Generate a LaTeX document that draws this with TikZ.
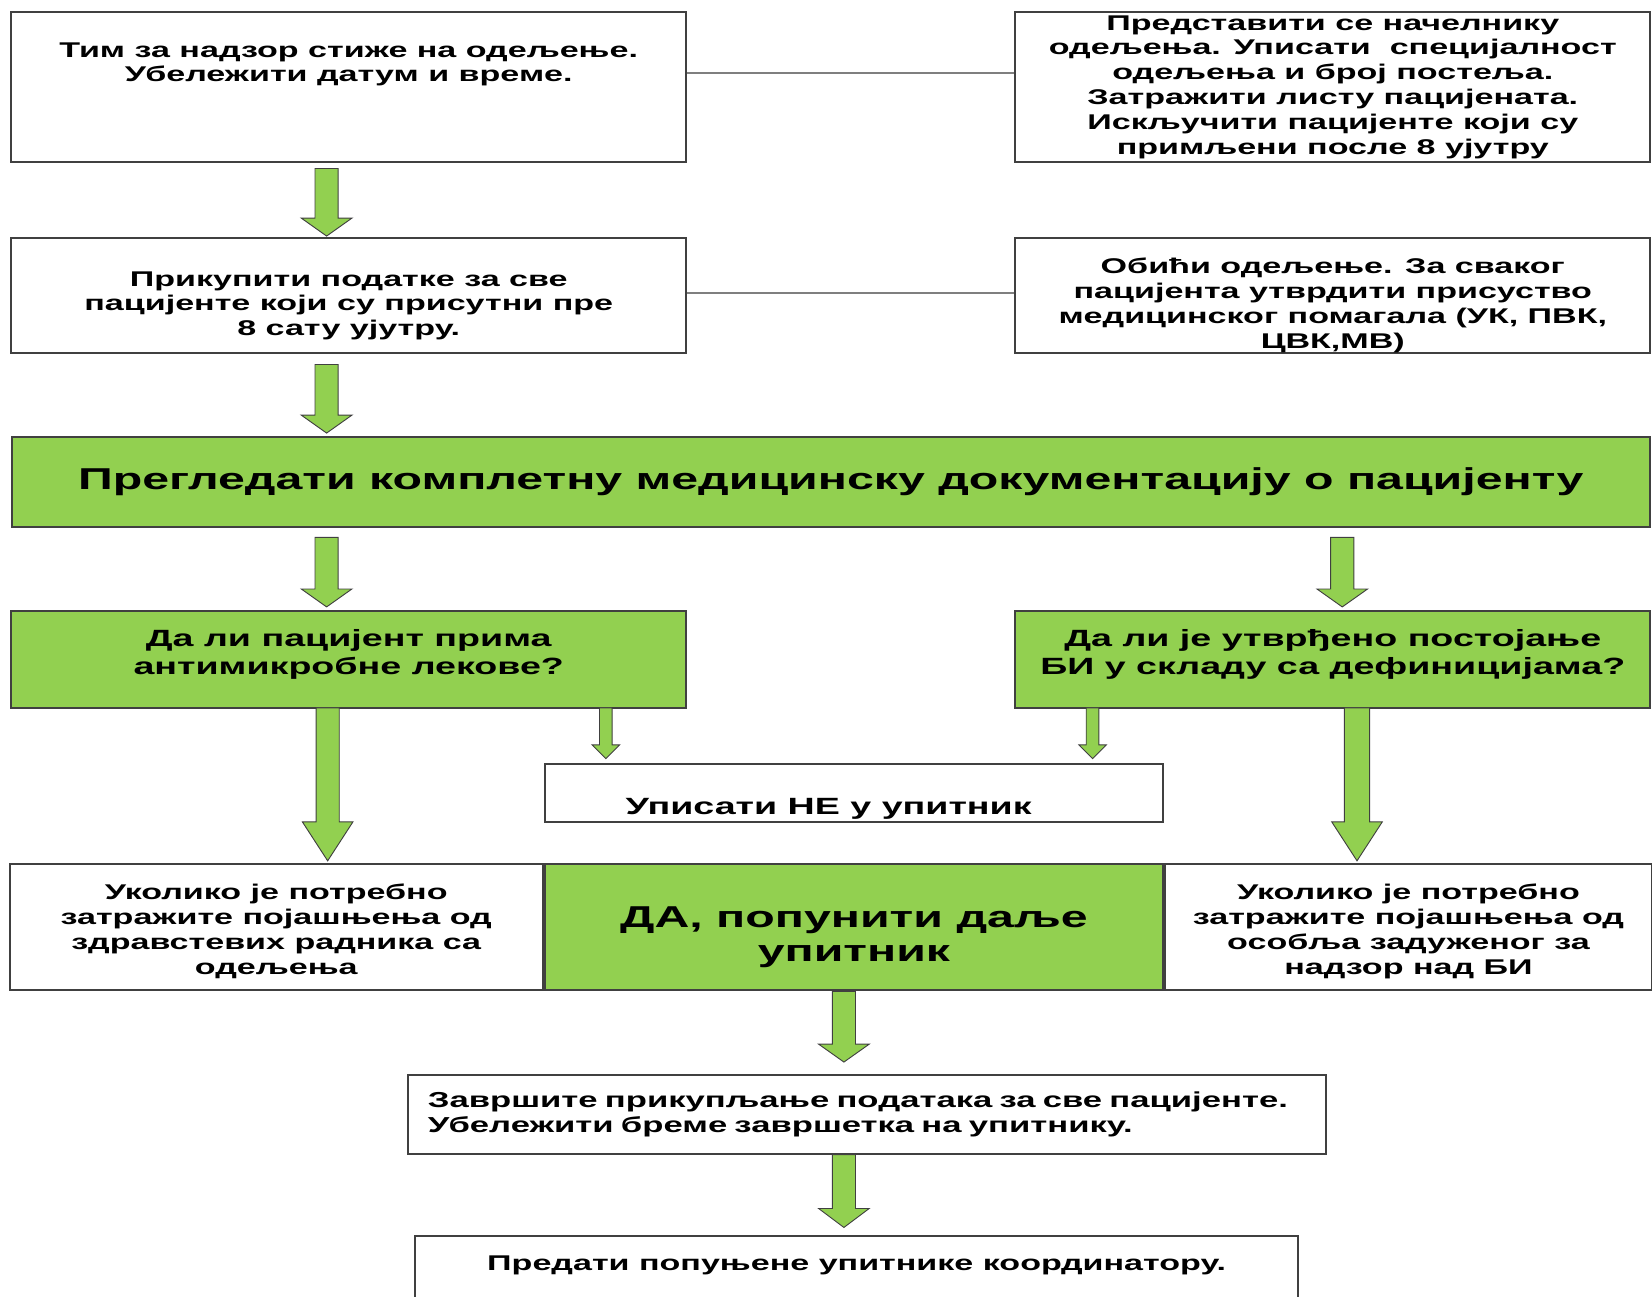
\documentclass[tikz,border=0pt]{standalone}
\usepackage{fontspec}
\newfontfamily\flowfont{Liberation Sans}[FakeStretch=1.6]
\usepackage{tikz}
\usetikzlibrary{positioning}
\usetikzlibrary{calc}

\definecolor{boxgreen}{HTML}{92D050}
\definecolor{boxline}{HTML}{404040}
\definecolor{linkgray}{HTML}{7F7F7F}

% wide green arrow: from, to, half shaft, half head, head length
\newcommand{\fatarrow}[5]{%
  \coordinate (fs) at (#1);
  \coordinate (fe) at (#2);
  \draw[block arrow] ($(fs)+(-#3,0)$) -- ($(fe)+(-#3,-#5)$) -- ($(fe)+(-#4,-#5)$) -- (fe)
    -- ($(fe)+(#4,-#5)$) -- ($(fe)+(#3,-#5)$) -- ($(fs)+(#3,0)$) -- cycle;
}

\begin{document}
\begin{tikzpicture}[x=0.02cm,y=-0.02cm,
                    font=\flowfont\bfseries\fontsize{11.5}{13.4}\selectfont,
                    plain box/.style={rectangle,draw=boxline,line width=1.1pt,fill=white,
                            align=center,inner sep=1pt},
                    green box/.style={plain box,fill=boxgreen},
                    big text/.style={font=\flowfont\bfseries\fontsize{16.3}{18.4}\selectfont},
                    ask text/.style={font=\flowfont\bfseries\fontsize{12.7}{14.8}\selectfont},
                    block arrow/.style={draw=boxline,line width=0.5pt,fill=boxgreen},
                    link/.style={draw=linkgray,line width=1.1pt}]

                \clip (0,0) rectangle (1568,1231);

                \coordinate (colL) at (310,0);
                \coordinate (colLbig) at (311,0);
                \coordinate (colR) at (1274,0);
                \coordinate (colRbig) at (1288,0);
                \coordinate (colLno) at (575,0);
                \coordinate (colRno) at (1037,0);
                \coordinate (colM) at (801,0);

                \node[plain box,minimum width=12.81cm,minimum height=2.86cm] (arrive) at (331,82.5)
                    {Тим за надзор стиже на одељење.\\Убележити датум и време.\\ \mbox{}\\ \mbox{}};
                \node[plain box,minimum width=12.05cm,minimum height=2.86cm,inner ysep=0pt] (report) at (1265,82.5)
                    {Представити се начелнику\\одељења. Уписати~ специјалност\\одељења и број постеља.\\
                     Затражити листу пацијената.\\Искључити пацијенте који су\\примљени после 8 ујутру};
                \node[plain box,minimum width=12.81cm,minimum height=2.18cm] (collect) at (331,280.5)
                    {\rule{0pt}{19pt}Прикупити податке за све\\пацијенте који су присутни пре\\8 сату ујутру.};
                \node[plain box,minimum width=12.05cm,minimum height=2.18cm,inner ysep=0pt] (visit) at (1265,280.5)
                    {\rule{0pt}{19pt}Обићи одељење. За сваког\\пацијента утврдити присуство\\медицинског помагала (УК, ПВК,\\ЦВК,МВ)};

                \node[green box,big text,minimum width=31.1cm,minimum height=1.7cm] (review) at (788.5,457.5)
                    {Прегледати комплетну медицинску документацију о пацијенту};

                \node[green box,ask text,minimum width=12.81cm,minimum height=1.84cm] (drugs) at (331,626)
                    {Да ли пацијент прима\\антимикробне лекове?\rule[-8pt]{0pt}{0pt}};
                \node[green box,ask text,minimum width=12.05cm,minimum height=1.84cm] (infection) at (1265,626)
                    {Да ли је утврђено постојање\\БИ у складу са дефиницијама?\rule[-8pt]{0pt}{0pt}};

                \node[plain box,minimum width=11.74cm,text height=0.96cm,text depth=0.14cm,inner ysep=0pt,
                      font=\flowfont\bfseries\fontsize{12.7}{14}\selectfont] (writeno) at (810.5,752.5)
                    {Уписати НЕ у упитник\hspace*{0.96cm}};

                \node[green box,big text,minimum width=11.74cm,minimum height=2.4cm] (fillin) at (810.5,880)
                    {\rule{0pt}{22pt}ДА, попунити даље\\упитник};
                \node[plain box,minimum width=10.12cm,minimum height=2.4cm] (askstaff) [left=0pt of fillin]
                    {\rule{0pt}{13pt}Уколико је потребно\\затражите појашњења од\\здравстевих радника са\\одељења};
                \node[plain box,minimum width=9.24cm,minimum height=2.4cm] (askteam) [right=0pt of fillin]
                    {\rule{0pt}{13pt}Уколико је потребно\\затражите појашњења од\\особља задуженог за\\надзор над БИ};

                \node[plain box,text width=16.68cm,align=left,inner xsep=0.38cm,minimum height=1.5cm,
                      font=\flowfont\bfseries\fontsize{11.7}{13.6}\selectfont] (finish) at (823,1057.5)
                    {Завршите прикупљање података за све пацијенте.\\Убележити бреме завршетка на упитнику.};
                \node[plain box,minimum width=16.76cm,text height=0.66cm,text depth=0.70cm,inner ysep=0pt] (handover) at (813,1207)
                    {Предати попуњене упитнике координатору.};

                \draw[link] ([yshift=0.27cm]arrive.east) -- ([yshift=0.27cm]report.west);
                \draw[link] ([yshift=0.05cm]collect.east) -- ([yshift=0.05cm]visit.west);

                \fatarrow{$(arrive.south -| colL)+(0,5)$}{$(collect.north -| colL)+(0,-1)$}{11}{24}{17}
                \fatarrow{$(collect.south -| colL)+(0,10)$}{$(review.north -| colL)+(0,-3)$}{11}{24}{17}
                \fatarrow{$(review.south -| colL)+(0,9)$}{$(drugs.north -| colL)+(0,-3)$}{11}{24}{17}
                \fatarrow{$(review.south -| colR)+(0,9)$}{$(infection.north -| colR)+(0,-3)$}{11}{24}{17}
                \fatarrow{$(drugs.south -| colLbig)+(0,-1)$}{$(askstaff.north -| colLbig)+(0,-2)$}{11}{24}{37}
                \fatarrow{$(infection.south -| colRbig)+(0,-1)$}{$(askteam.north -| colRbig)+(0,-2)$}{12}{24}{37}
                \fatarrow{$(drugs.south -| colLno)+(0,-1)$}{$(writeno.north -| colLno)+(0,-4)$}{6}{13}{13}
                \fatarrow{$(infection.south -| colRno)+(0,-1)$}{$(writeno.north -| colRno)+(0,-4)$}{6}{13}{13}
                \fatarrow{$(fillin.south -| colM)$}{$(finish.north -| colM)+(0,-11)$}{11}{24}{17}
                \fatarrow{$(finish.south -| colM)$}{$(handover.north -| colM)+(0,-7)$}{11}{24}{18}
            \end{tikzpicture}
\end{document}
